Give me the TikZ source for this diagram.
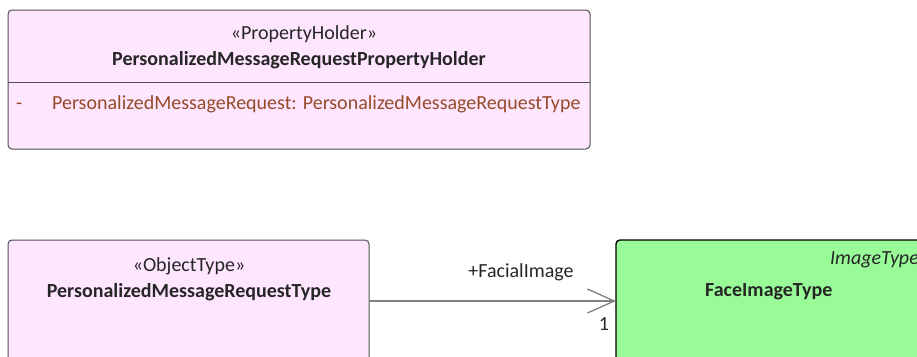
\documentclass[tikz,border=0pt]{standalone}
\usepackage{fontspec}
\setmainfont{Carlito}
\usetikzlibrary{arrows.meta}
\definecolor{pinkfill}{RGB}{255,230,255}
\definecolor{greenfill}{RGB}{152,251,152}
\definecolor{boxline}{RGB}{80,80,80}
\definecolor{attrcol}{RGB}{150,75,40}
\definecolor{arrowcol}{RGB}{128,128,128}
\tikzset{
  x=1pt,y=-1pt,
  pinkbox/.style={draw=boxline,fill=pinkfill,line width=1pt,rounded corners=4pt},
  greenbox/.style={draw=black,fill=greenfill,line width=1.4pt,rounded corners=4pt},
  txt/.style={inner sep=0pt,font=\fontsize{20}{24}\selectfont,text=black!85},
  btxt/.style={txt,font=\fontsize{20}{24}\selectfont\bfseries},
}
\begin{document}
\begin{tikzpicture}
\useasboundingbox (0,0) rectangle (917,356);
% top box
\draw[pinkbox] (8,10) rectangle (590,149);
\draw[boxline,line width=1pt] (8,82) -- (590,82);
\node[txt] (s1) at (304,34) {«PropertyHolder»};
\node[btxt] (n1) at (299,60) {PersonalizedMessageRequestPropertyHolder};
\node[txt,text=attrcol,anchor=base west] (m1) at (16,109) {-};
\node[txt,text=attrcol,anchor=base west] (a1) at (52,109) {PersonalizedMessageRequest: PersonalizedMessageRequestType};
% left box
\draw[pinkbox] (8,240) rectangle (369,370);
\node[txt] (s2) at (189,266) {«ObjectType»};
\node[btxt] (n2) at (189,292) {PersonalizedMessageRequestType};
% right box
\draw[greenbox] (616,240) rectangle (940,370);
\node[txt,font=\fontsize{20}{24}\selectfont\itshape,anchor=east] (s3) at (919,260) {ImageType};
\node[btxt,anchor=west] (n3) at (705,292) {FaceImageType};
\coordinate (p) at (369,301);
\coordinate (q) at (616,301);
\draw[arrowcol,line width=1.3pt,-{Straight Barb[length=27pt,width=24pt,line width=1.3pt]}] (p) -- (q);
\node[txt] (l1) at (521,272) {+FacialImage};
\node[txt] (l2) at (604,324) {1};
\end{tikzpicture}
\end{document}
